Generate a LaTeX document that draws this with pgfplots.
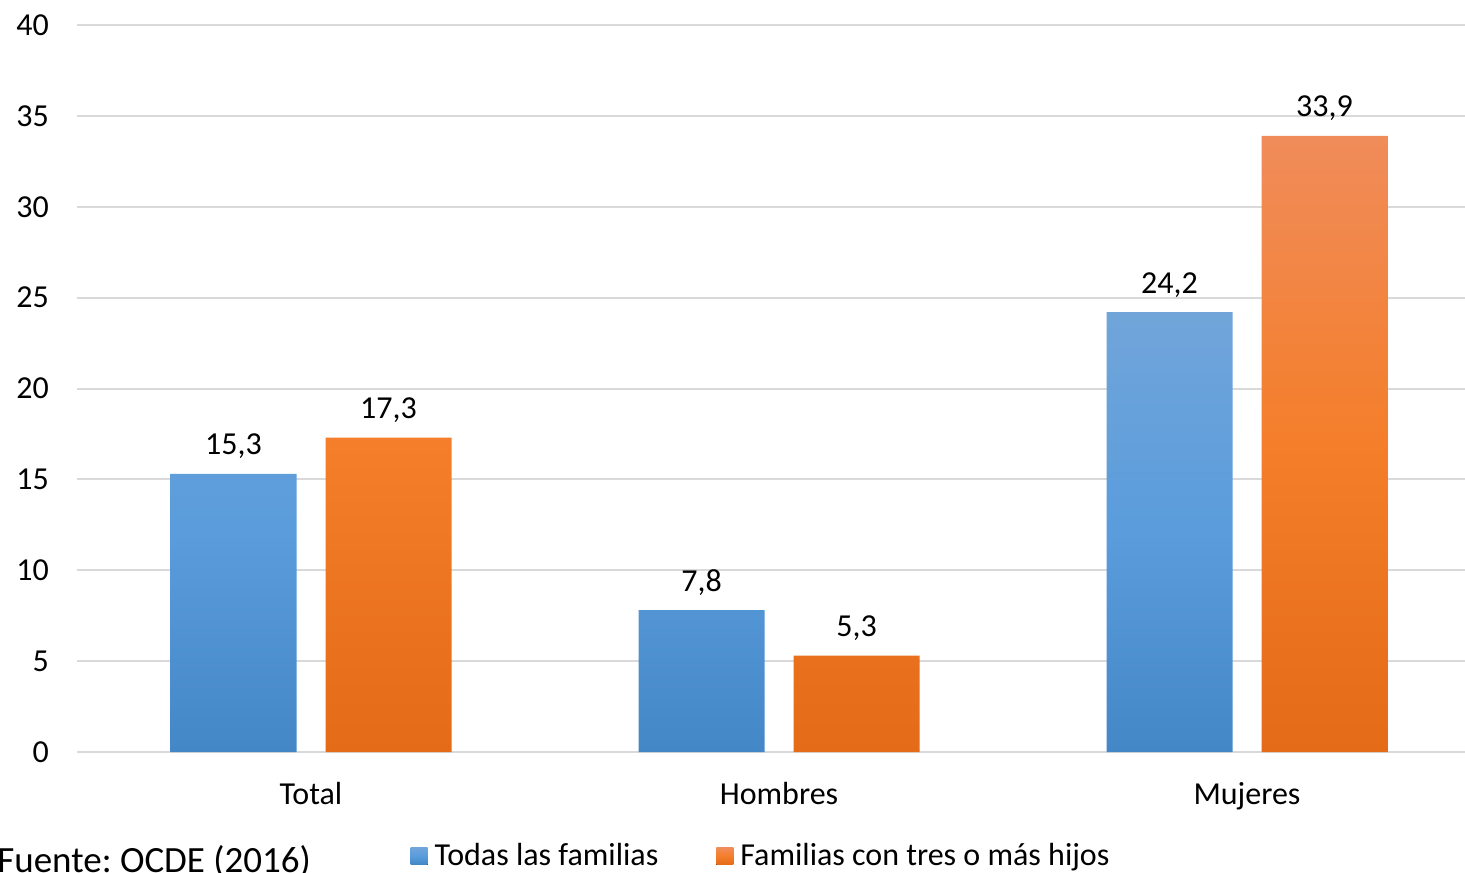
\documentclass[border=0pt]{standalone}
\usepackage{fontspec}
\setmainfont{Carlito}
\usepackage{pgfplots}
\pgfplotsset{compat=1.18}
\frenchspacing
\definecolor{gridc}{HTML}{D9D9D9}
\definecolor{blueT}{HTML}{71A5DA}
\definecolor{blueM}{HTML}{5A9CDC}
\definecolor{blueB}{HTML}{4487C6}
\definecolor{orT}{HTML}{F08C5A}
\definecolor{orM}{HTML}{F47E2A}
\definecolor{orB}{HTML}{E46B18}
\newcommand{\mainfs}{\fontsize{16pt}{19pt}\selectfont}
\begin{document}
\begin{tikzpicture}
\useasboundingbox (-38.5pt,-60pt) rectangle (694pt,376pt);
\clip (-38.5pt,-60pt) rectangle (694pt,376pt);
\begin{axis}[
  scale only axis, width=694pt, height=363.5pt,
  clip=false,
  ymin=0, ymax=40, ytick={0,5,...,40},
  xmin=-0.5, xmax=2.4658,
  xtick={0,1,2}, xticklabels={Total,Hombres,Mujeres},
  ybar=14.5pt, bar width=63pt,
  axis line style={draw=none},
  major tick length=0pt,
  ymajorgrids, grid style={gridc, line width=1pt},
  tick label style={font=\mainfs},
  /pgf/number format/assume math mode=true,
  yticklabel style={xshift=-10.5pt},
  xticklabel style={yshift=-11.5pt},
  nodes near coords={\pgfmathprintnumber[use comma,fixed,fixed zerofill,precision=1]{\pgfplotspointmeta}},
  nodes near coords style={black, font=\mainfs, yshift=4pt},
  legend columns=2,
  legend style={draw=none, at={(0.24,0)}, anchor=west, yshift=-52pt, xshift=-3pt, font=\mainfs,
    /tikz/every even column/.append style={column sep=27pt}},
  legend image code/.code={\fill[#1] (0pt,-4.25pt) rectangle (8.5pt,4.25pt); \path (10pt,0pt);},
]
\addplot[draw=none, top color=blueT, bottom color=blueB, middle color=blueM]
  coordinates {(0,15.3) (1,7.8) (2,24.2)};
\addplot[draw=none, top color=orT, bottom color=orB, middle color=orM]
  coordinates {(0,17.3) (1,5.3) (2,33.9)};
\legend{Todas las familias, Familias con tres o más hijos}
\node[anchor=base west, inner sep=0pt, font=\fontsize{18.5pt}{22pt}\selectfont]
  at ([xshift=-40pt,yshift=-60pt]rel axis cs:0,0) {Fuente: OCDE (2016)};
\end{axis}
\end{tikzpicture}
\end{document}
